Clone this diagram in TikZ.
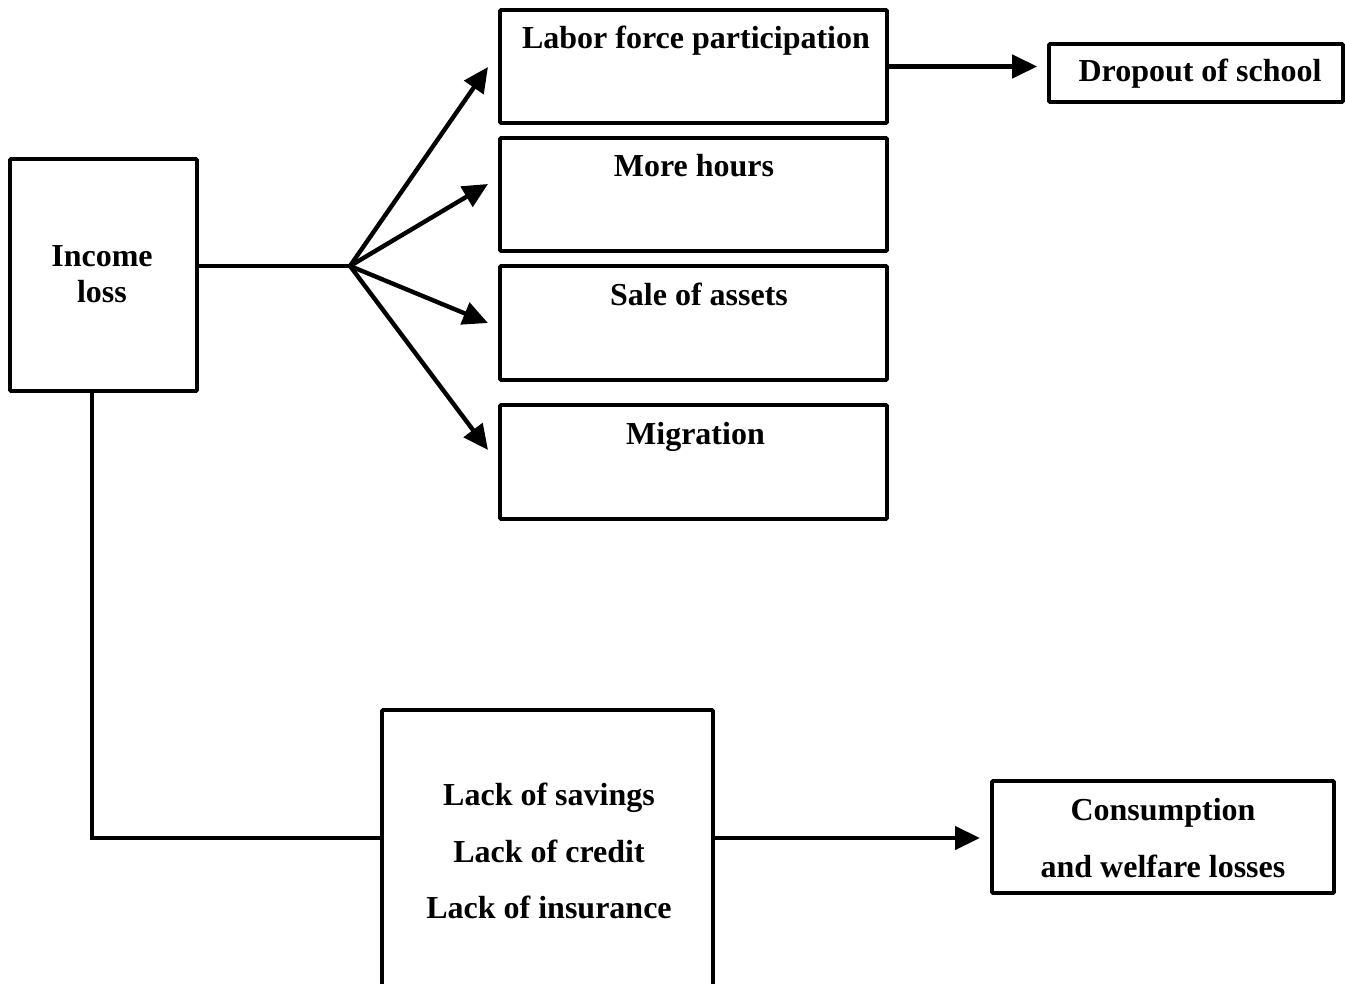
\documentclass[tikz,border=0pt]{standalone}
\usepackage{fontspec}
\setmainfont{Liberation Serif}
\usetikzlibrary{arrows.meta}
\begin{document}
\begin{tikzpicture}[x=1pt,y=-1pt,
  box/.style={draw, line width=3.6pt, inner sep=0pt, rounded corners=1pt},
  lbl/.style={font=\fontsize{32}{36}\selectfont\bfseries, inner sep=0pt, anchor=base},
  conn/.style={line width=4.4pt},
  arr/.style={line width=4.4pt, -{Triangle[length=25pt,width=23pt]}}]
\useasboundingbox (0,0) rectangle (1345,984);
\clip (0,0) rectangle (1345,984);
% boxes
\node[box, minimum width=187pt, minimum height=232pt] (inc) at (103.5,275) {};
\node[box, minimum width=387pt, minimum height=113pt] (labor) at (693.5,66.5) {};
\node[box, minimum width=387pt, minimum height=113pt] (hours) at (693.5,194.5) {};
\node[box, minimum width=387pt, minimum height=114pt] (sale) at (693.5,323) {};
\node[box, minimum width=387pt, minimum height=114pt] (migr) at (693.5,462) {};
\node[box, minimum width=294pt, minimum height=58pt] (drop) at (1196,73) {};
\node[box, minimum width=331pt, minimum height=290pt] (lack) at (547.5,855) {};
\node[box, minimum width=342pt, minimum height=112pt] (cons) at (1163,837) {};
% texts
\node[lbl] (incA) at (102,267) {Income};
\node[lbl] (incB) at (102,303) {loss};
\node[lbl] (laborT) at (696,49) {Labor force participation};
\node[lbl] (hoursT) at (694,177) {More hours};
\node[lbl] (saleT) at (699,306) {Sale of assets};
\node[lbl] (migrT) at (695.5,445) {Migration};
\node[lbl] (dropT) at (1200,82) {Dropout of school};
\node[lbl] (lackA) at (549,805) {Lack of savings};
\node[lbl] (lackB) at (549,862) {Lack of credit};
\node[lbl] (lackC) at (549,918) {Lack of insurance};
\node[lbl] (consA) at (1163,820) {Consumption};
\node[lbl] (consB) at (1163,877) {and welfare losses};
% coordinates
\coordinate (hub) at (350,266);
\coordinate (t1) at (488,67);
\coordinate (t2) at (488,184);
\coordinate (t3) at (488,323);
\coordinate (t4) at (488,450);
\coordinate (d0) at (92,391);
\coordinate (lackin) at (382,838);
\coordinate (lackout) at (713,838);
\coordinate (constip) at (980,838);
% connectors
\draw[conn] (hub -| inc.east) -- (hub);
\draw[arr] (hub) -- (t1);
\draw[arr] (hub) -- (t2);
\draw[arr] (hub) -- (t3);
\draw[arr] (hub) -- (t4);
\draw[arr] (labor.east) -- ([xshift=-10pt]drop.west |- labor.east);
\draw[conn] (d0) |- (lackin);
\draw[arr] (lackout) -- (constip);
\end{tikzpicture}
\end{document}
